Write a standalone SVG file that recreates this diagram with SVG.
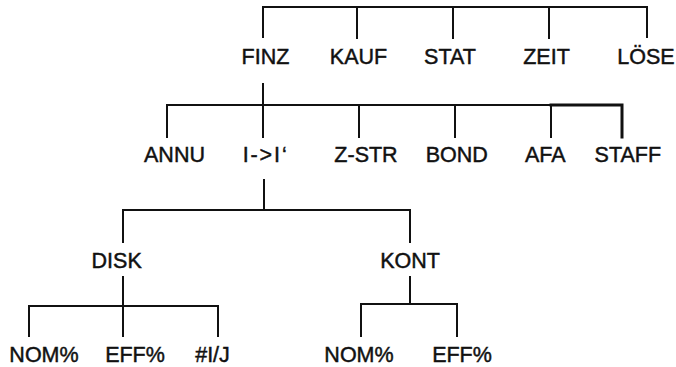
<svg xmlns="http://www.w3.org/2000/svg" width="676" height="367" viewBox="0 0 676 367">
<style>
text{font-family:"Liberation Sans",Arial,Helvetica,sans-serif;font-size:21.5px;fill:#111;stroke:#111;stroke-width:0.45;text-anchor:middle}
.c{stroke:#111;stroke-width:2;fill:none;stroke-linecap:square}
.t{stroke-width:3}
</style>
<rect width="676" height="367" fill="#fff"/>
<g id="connectors" class="c">
<path class="c" d="M263 37 V7 H647 V37 M357 7 V38 M453 7 V38 M549 7 V38"/>
<path class="c" d="M263 84 V137 M167 137 V105 H551 M359 105 V137 M455 105 V137 M551 105 V137"/>
<path class="c t" d="M551 105 H622 V137"/>
<path class="c" d="M264 180 V210 M123 242 V210 H410 V242"/>
<path class="c" d="M123 277 V306 M29 336 V306 H218 V336 M123 306 V336"/>
<path class="c" d="M410 277 V304 M361 336 V304 H457 V336"/>
</g>
<g id="finz"><text x="265.5" y="64">FINZ</text></g>
<g id="kauf"><text x="358.5" y="64">KAUF</text></g>
<g id="stat"><text x="450" y="64">STAT</text></g>
<g id="zeit"><text x="546.5" y="64">ZEIT</text></g>
<g id="loese"><text x="646" y="64">LÖSE</text></g>
<g id="annu"><text x="174.5" y="162">ANNU</text></g>
<g id="ii"><text x="264.7" y="162" textLength="44" lengthAdjust="spacing">I-&gt;I‘</text></g>
<g id="zstr"><text x="366" y="162">Z-STR</text></g>
<g id="bond"><text x="456.7" y="162">BOND</text></g>
<g id="afa"><text x="545.3" y="162">AFA</text></g>
<g id="staff"><text x="627.8" y="162">STAFF</text></g>
<g id="disk"><text x="116.7" y="268">DISK</text></g>
<g id="kont"><text x="410" y="268">KONT</text></g>
<g id="disk-nom"><text x="44" y="362">NOM%</text></g>
<g id="disk-eff"><text x="135" y="362">EFF%</text></g>
<g id="disk-ij"><text x="212.5" y="362">#I/J</text></g>
<g id="kont-nom"><text x="359" y="362">NOM%</text></g>
<g id="kont-eff"><text x="462" y="362">EFF%</text></g>
</svg>
